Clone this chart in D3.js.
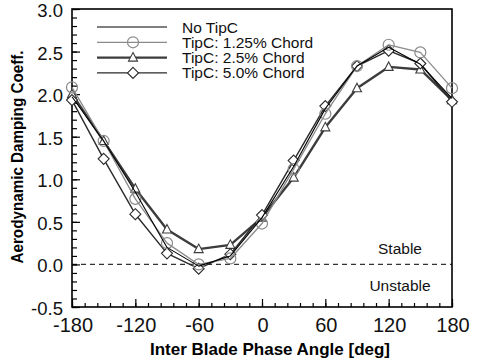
<!DOCTYPE html>
<html><head><meta charset="utf-8">
<script src="https://cdn.jsdelivr.net/npm/d3@7"></script>
<style>body{margin:0;background:#fff}svg{display:block}text{font-family:"Liberation Sans",Arial,sans-serif}</style>
</head><body><svg id="c" width="481" height="359"></svg>
<script>
const angles = [-180,-150,-120,-90,-60,-30,0,30,60,90,120,150,180];
const noTipC  = [1.97,1.45,0.85,0.20,-0.02,0.10,0.55,1.15,1.83,2.33,2.55,2.35,1.95];
const tip125  = [2.08,1.45,0.77,0.25,0.00,0.07,0.48,1.12,1.77,2.33,2.58,2.49,2.07];
const tip25   = [2.00,1.45,0.89,0.41,0.18,0.23,0.55,1.02,1.61,2.07,2.32,2.29,1.93];
const tip50   = [1.93,1.24,0.59,0.13,-0.05,0.12,0.58,1.22,1.86,2.33,2.51,2.36,1.91];
const seriesNames = ["No TipC","TipC: 1.25% Chord","TipC: 2.5% Chord","TipC: 5.0% Chord"];
const xTicks = [-180,-120,-60,0,60,120,180];
const yTicks = [-0.5,0.0,0.5,1.0,1.5,2.0,2.5,3.0];

const svg = d3.select("#c");
const L=72, R=452, T=9, B=307;
const x = d3.scaleLinear().domain([-180,180]).range([L,R]);
const y = d3.scaleLinear().domain([-0.5,3.0]).range([B,T]);

const series = [
  {name:seriesNames[0], vals:noTipC, color:"#000", w:1.1, marker:null},
  {name:seriesNames[1], vals:tip125, color:"#8a8a8a", w:1.3, marker:"circle"},
  {name:seriesNames[2], vals:tip25, color:"#3c3c3c", w:2.4, marker:"triangle"},
  {name:seriesNames[3], vals:tip50, color:"#2a2a2a", w:1.4, marker:"diamond"}
];

// zero dashed line
svg.append("line").attr("x1",x(-180)).attr("x2",x(180)).attr("y1",y(0)).attr("y2",y(0))
  .attr("stroke","#333").attr("stroke-width",1.2).attr("stroke-dasharray","5,4");

// axes with inner ticks
const xMinor = d3.range(-180,181,12);
const yMinor = d3.range(-5,31,1).map(d=>d/10);
const gx = svg.append("g").attr("transform",`translate(0,${B})`);
gx.call(d3.axisTop(x).tickValues(xMinor).tickSize(4).tickFormat(""));
gx.select(".domain").remove();
const gx2 = svg.append("g").attr("transform",`translate(0,${B})`);
gx2.call(d3.axisTop(x).tickValues(xTicks).tickSize(8).tickFormat(""));
gx2.select(".domain").remove();
const gy = svg.append("g").attr("transform",`translate(${L},0)`);
gy.call(d3.axisRight(y).tickValues(yMinor).tickSize(5).tickFormat(""));
gy.select(".domain").remove();
const gy2 = svg.append("g").attr("transform",`translate(${L},0)`);
gy2.call(d3.axisRight(y).tickValues(yTicks).tickSize(8).tickFormat(""));
gy2.select(".domain").remove();
svg.selectAll(".tick line").attr("stroke","#000").attr("stroke-width",1.2);

// tick labels
svg.append("g").selectAll("text").data(xTicks).join("text")
  .attr("x",d=>x(d)+1).attr("y",332).attr("text-anchor","middle")
  .attr("font-size",20).attr("fill","#111").text(d=>d);
svg.append("g").selectAll("text").data(yTicks).join("text")
  .attr("x",63).attr("y",d=>y(d)+8).attr("text-anchor","end")
  .attr("font-size",18.5).attr("fill","#111").text(d=>d.toFixed(1));

// frame
svg.append("rect").attr("x",L).attr("y",T).attr("width",R-L).attr("height",B-T)
  .attr("fill","none").attr("stroke","#000").attr("stroke-width",1.6);

// marker drawer
function marker(g, type, cx, cy, color){
  if(type==="circle") g.append("circle").attr("cx",cx).attr("cy",cy).attr("r",5.5)
     .attr("fill","none").attr("stroke",color).attr("stroke-width",1.2);
  else if(type==="triangle") g.append("path")
     .attr("d",`M${cx},${cy-5}L${cx+4.5},${cy+3.5}L${cx-4.5},${cy+3.5}Z`)
     .attr("fill","#fff").attr("stroke",color).attr("stroke-width",1.1);
  else if(type==="diamond") g.append("path")
     .attr("d",`M${cx},${cy-5.5}L${cx+5.5},${cy}L${cx},${cy+5.5}L${cx-5.5},${cy}Z`)
     .attr("fill","#fff").attr("stroke",color).attr("stroke-width",1.1);
}

const line = d3.line().x((d,i)=>x(angles[i])).y(d=>y(d));
const order = [2,3,1,0];
order.forEach(k=>{
  const s = series[k];
  const g = svg.append("g");
  g.append("path").attr("d",line(s.vals)).attr("fill","none")
    .attr("stroke",s.color).attr("stroke-width",s.w).attr("stroke-linejoin","round");
  if(s.marker) s.vals.forEach((v,i)=>marker(g,s.marker,x(angles[i]),y(v),s.color));
});

// legend
const lg = svg.append("g");
series.forEach((s,i)=>{
  const yy = 27 + i*15.3;
  lg.append("line").attr("x1",97).attr("x2",167).attr("y1",yy).attr("y2",yy)
    .attr("stroke",s.color).attr("stroke-width",s.w);
  if(s.marker) marker(lg,s.marker,133,yy,s.color);
  lg.append("text").attr("x",182).attr("y",yy+5.5).attr("font-size",15.5).attr("fill","#111").text(s.name);
});

// stable labels
svg.append("text").attr("x",400).attr("y",254).attr("text-anchor","middle").attr("font-size",15.5).attr("fill","#111").text("Stable");
svg.append("text").attr("x",400).attr("y",291).attr("text-anchor","middle").attr("font-size",15.5).attr("fill","#111").text("Unstable");

// axis titles
svg.append("text").attr("x",270).attr("y",355).attr("text-anchor","middle")
  .attr("font-size",17).attr("font-weight","bold").attr("textLength",240).attr("lengthAdjust","spacingAndGlyphs")
  .text("Inter Blade Phase Angle [deg]");
svg.append("text").attr("transform","translate(23,157) rotate(-90)").attr("text-anchor","middle")
  .attr("font-size",17).attr("font-weight","bold").attr("textLength",213).attr("lengthAdjust","spacingAndGlyphs")
  .text("Aerodynamic Damping Coeff.");
</script></body></html>
